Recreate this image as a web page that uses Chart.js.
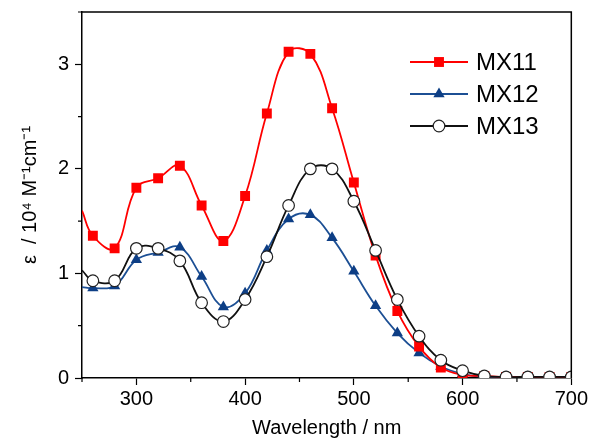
<!DOCTYPE html>
<html>
<head>
<meta charset="utf-8">
<title>Absorption spectra MX11-MX13</title>
<script src="https://cdn.jsdelivr.net/npm/chart.js"></script>
<style>
  html, body { margin: 0; padding: 0; background: #fff; }
  #wrap { width: 590px; height: 439px; }
</style>
</head>
<body>
<div id="wrap"><canvas id="specChart" width="590" height="439"></canvas></div>
<script>
/* UV-vis spectra, epsilon vs wavelength */

const wavelengths = [250, 260, 280, 300, 320, 340, 360, 380, 400, 420, 440, 460,
                     480, 500, 520, 540, 560, 580, 600, 620, 640, 660, 680, 700];

const mx11 = [1.60, 1.36, 1.24, 1.82, 1.91, 2.03, 1.65, 1.31, 1.74, 2.53, 3.12, 3.10,
              2.58, 1.87, 1.17, 0.64, 0.30, 0.10, 0.03, 0.02, 0.01, 0.01, 0.01, 0.01];

const mx12 = [0.87, 0.86, 0.88, 1.13, 1.20, 1.25, 0.97, 0.68, 0.81, 1.22, 1.52, 1.56,
              1.34, 1.02, 0.69, 0.43, 0.24, 0.11, 0.04, 0.01, 0.01, 0.01, 0.01, 0.01];

const mx13 = [1.03, 0.93, 0.93, 1.24, 1.24, 1.12, 0.72, 0.54, 0.75, 1.16, 1.65, 2.00,
              2.00, 1.69, 1.22, 0.75, 0.40, 0.17, 0.07, 0.02, 0.01, 0.01, 0.01, 0.01];

const seriesNames = ["MX11", "MX12", "MX13"];

const xTicks = [300, 400, 500, 600, 700];
const xMinorTicks = [250, 350, 450, 550, 650];
const yTicks = [0, 1, 2, 3];
const yMinorTicks = [0.5, 1.5, 2.5, 3.5];

const FONT = "'Liberation Sans', Arial, Helvetica, sans-serif";

function toPoints(values) {
    return wavelengths.map((w, i) => ({ x: w, y: values[i] }));
}

// first point (250 nm) is only where the curve starts, no marker there
const markerRadius = (r) => wavelengths.map((w, i) => (i === 0 ? 0 : r));

/* minor ticks + top/right frame */
const framePlugin = {
    id: "frame",
    afterDraw(chart) {
        const { ctx, chartArea: a, scales: { x, y } } = chart;
        ctx.save();
        ctx.strokeStyle = "#000";
        ctx.lineWidth = 1.5;
        ctx.beginPath();
        ctx.moveTo(a.left, a.top);
        ctx.lineTo(a.right, a.top);
        ctx.lineTo(a.right, a.bottom);
        ctx.stroke();

        ctx.lineWidth = 1.2;
        ctx.beginPath();
        xMinorTicks.forEach(v => {
            const px = x.getPixelForValue(v);
            ctx.moveTo(px, a.bottom);
            ctx.lineTo(px, a.bottom + 4);
        });
        yMinorTicks.forEach(v => {
            const py = y.getPixelForValue(v);
            ctx.moveTo(a.left - 4, py);
            ctx.lineTo(a.left, py);
        });
        ctx.stroke();
        ctx.restore();
    }
};

/* legend with line + marker, inside the plot */
const legendPlugin = {
    id: "lineLegend",
    afterDraw(chart) {
        const { ctx } = chart;
        const rows = [62, 94, 126];
        ctx.save();
        chart.data.datasets.forEach((ds, i) => {
            const yy = rows[i];
            ctx.strokeStyle = ds.borderColor;
            ctx.lineWidth = ds.borderWidth;
            ctx.beginPath();
            ctx.moveTo(410, yy);
            ctx.lineTo(468, yy);
            ctx.stroke();

            ctx.fillStyle = ds.pointBackgroundColor;
            ctx.strokeStyle = ds.pointBorderColor;
            ctx.lineWidth = ds.pointBorderWidth;
            Chart.helpers.drawPoint(ctx, {
                pointStyle: ds.pointStyle,
                radius: ds.legendRadius,
                rotation: 0,
                borderWidth: ds.pointBorderWidth
            }, 439, yy);

            ctx.fillStyle = "#000";
            ctx.font = "24px " + FONT;
            ctx.textAlign = "left";
            ctx.textBaseline = "middle";
            ctx.fillText(ds.label, 476, yy + 1);
        });
        ctx.restore();
    }
};

new Chart(document.getElementById("specChart"), {

    type: "line",

    data: {

        datasets: [

            {
                label: seriesNames[0],
                data: toPoints(mx11),
                borderColor: "#ff0000",
                borderWidth: 1.8,
                pointStyle: "rect",
                pointRadius: markerRadius(7),
                legendRadius: 7,
                pointBackgroundColor: "#ff0000",
                pointBorderColor: "#ff0000",
                pointBorderWidth: 0,
                tension: 0.4,
                order: 1
            },

            {
                label: seriesNames[1],
                data: toPoints(mx12),
                borderColor: "#1c4f94",
                borderWidth: 1.8,
                pointStyle: "triangle",
                pointRadius: markerRadius(6.5),
                legendRadius: 6.5,
                pointBackgroundColor: "#0d3e85",
                pointBorderColor: "#0d3e85",
                pointBorderWidth: 0,
                tension: 0.4,
                order: 2
            },

            {
                label: seriesNames[2],
                data: toPoints(mx13),
                borderColor: "#111111",
                borderWidth: 1.8,
                pointStyle: "circle",
                pointRadius: markerRadius(5.8),
                legendRadius: 5.8,
                pointBackgroundColor: "#ffffff",
                pointBorderColor: "#222222",
                pointBorderWidth: 1.2,
                tension: 0.4,
                order: 0
            }

        ]

    },

    options: {

        responsive: false,
        animation: false,
        devicePixelRatio: 1,

        layout: {
            padding: { left: 0, top: 12, right: 18, bottom: 0 }
        },

        plugins: {
            legend: { display: false },
            tooltip: { enabled: false }
        },

        scales: {

            x: {
                type: "linear",
                min: 250,
                max: 700,
                afterBuildTicks: (scale) => { scale.ticks = xTicks.map(v => ({ value: v })); },
                afterFit: (scale) => { scale.height = 61; },
                border: { display: true, color: "#000", width: 1.5 },
                grid: {
                    drawOnChartArea: false,
                    drawTicks: true,
                    tickLength: 7,
                    tickColor: "#000",
                    tickWidth: 1.2
                },
                ticks: {
                    color: "#000",
                    padding: 2,
                    maxRotation: 0,
                    font: { family: FONT, size: 20 }
                },
                title: {
                    display: true,
                    text: "Wavelength / nm",
                    color: "#000",
                    padding: { top: 0, bottom: 1 },
                    font: { family: FONT, size: 20, lineHeight: 1 }
                }
            },

            y: {
                type: "linear",
                min: 0,
                max: 3.5,
                afterBuildTicks: (scale) => { scale.ticks = yTicks.map(v => ({ value: v })); },
                afterFit: (scale) => {
                    scale.width = 82;
                    scale.paddingTop = 0;
                    scale.paddingBottom = 0;
                },
                border: { display: true, color: "#000", width: 1.5 },
                grid: {
                    drawOnChartArea: false,
                    drawTicks: true,
                    tickLength: 7,
                    tickColor: "#000",
                    tickWidth: 1.2
                },
                ticks: {
                    color: "#000",
                    padding: 6,
                    font: { family: FONT, size: 20 }
                },
                title: {
                    display: true,
                    text: "ε  / 10⁴ M⁻¹cm⁻¹",
                    color: "#000",
                    padding: { top: 18, bottom: 0 },
                    font: { family: FONT, size: 20, lineHeight: 1.2 }
                }
            }

        }

    },

    plugins: [framePlugin, legendPlugin]

});
</script>
</body>
</html>
